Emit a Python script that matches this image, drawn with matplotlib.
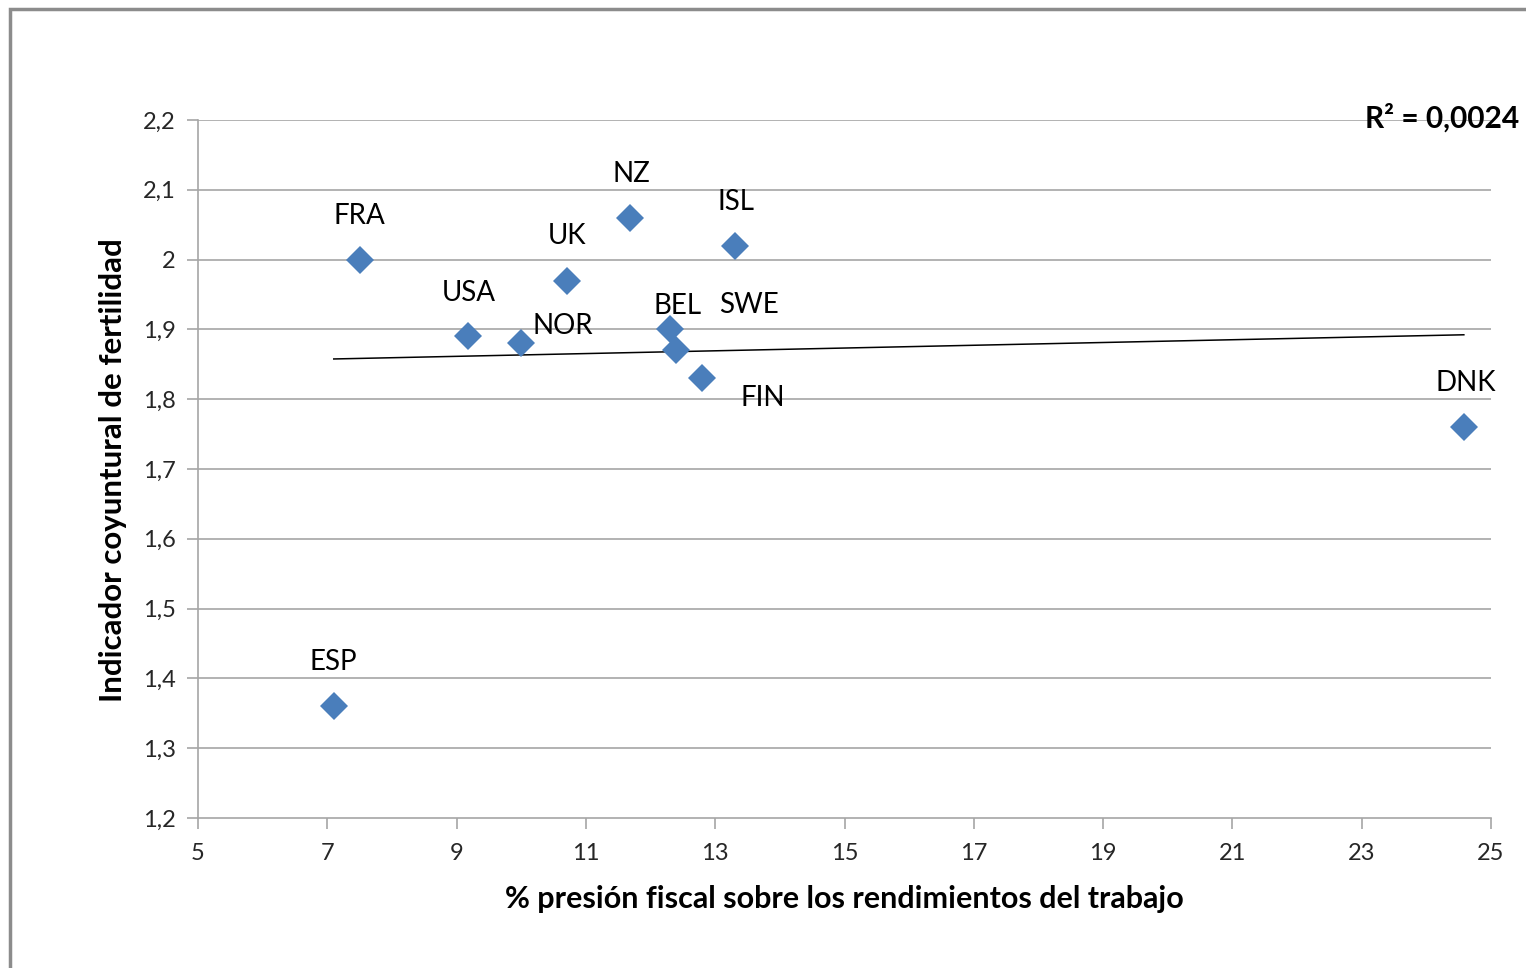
import numpy as np
import matplotlib
matplotlib.use('Agg')
import matplotlib.pyplot as plt
from matplotlib.patches import Rectangle

plt.rcParams['font.family'] = ['Lato', 'DejaVu Sans']

# Data
paises = ['FRA', 'ESP', 'USA', 'NOR', 'UK', 'NZ', 'ISL', 'BEL', 'SWE', 'FIN', 'DNK']
presion_fiscal = [7.5, 7.1, 9.18, 10.0, 10.7, 11.68, 13.3, 12.3, 12.4, 12.8, 24.58]
fertilidad = [2.00, 1.36, 1.89, 1.88, 1.97, 2.06, 2.02, 1.90, 1.87, 1.83, 1.76]
r2_texto = 'R² = 0,0024'

x_ticks = np.arange(5, 26, 2)
y_ticks = np.round(np.arange(1.2, 2.21, 0.1), 1)

# label offsets (pixels) relative to each point
offsets = {'FRA': (0, 44), 'ESP': (0, 44), 'USA': (1, 43), 'NOR': (42, 17),
           'UK': (0, 45), 'NZ': (2, 44), 'ISL': (1, 44), 'BEL': (8, 23),
           'SWE': (73, 45), 'FIN': (60, -20), 'DNK': (2, 44)}

fig = plt.figure(figsize=(15.26, 9.68), dpi=100)
ax = fig.add_axes([198 / 1526, 1 - 818 / 968, (1491 - 198) / 1526, (818 - 120) / 968])

# outer chart frame
fig.patches.append(Rectangle((10 / 1526, -0.05), 1.1, 1 - 9 / 968 + 0.05, transform=fig.transFigure,
                             fill=False, edgecolor='#8c8c8c', linewidth=2.5))

grid_col = '#a6a6a6'
for y in y_ticks[1:]:
    ax.axhline(y, color=grid_col, linewidth=1.2, zorder=1)

# trend line from least squares fit
coef = np.polyfit(presion_fiscal, fertilidad, 1)
xs = np.array([min(presion_fiscal), max(presion_fiscal)])
ax.plot(xs, np.polyval(coef, xs), color='black', linewidth=1.1, zorder=2)

ax.plot(presion_fiscal, fertilidad, linestyle='none', marker='D', markersize=14,
        color='#4a7ebb', markeredgewidth=0, zorder=3)

for p, xv, yv in zip(paises, presion_fiscal, fertilidad):
    dx, dy = offsets[p]
    ax.annotate(p, (xv, yv), xytext=(dx, dy), textcoords='offset pixels',
                ha='center', va='center', fontsize=20, color='black', zorder=4)

ax.set_xlim(5, 25)
ax.set_ylim(1.2, 2.2)
ax.set_xticks(x_ticks)
ax.set_yticks(y_ticks)
ax.set_xticklabels([str(v) for v in x_ticks])
ax.set_yticklabels([('%g' % v).replace('.', ',') for v in y_ticks])

for s in ['top', 'right']:
    ax.spines[s].set_visible(False)
for s in ['left', 'bottom']:
    ax.spines[s].set_color(grid_col)
    ax.spines[s].set_linewidth(1.2)
ax.tick_params(axis='both', direction='out', length=8, width=1.2, color=grid_col,
               labelsize=17, labelcolor='#262626')
ax.tick_params(axis='x', pad=10)
ax.tick_params(axis='y', pad=8)

fig.text(844 / 1526, 1 - 899 / 968, '% presión fiscal sobre los rendimientos del trabajo',
         ha='center', va='center', fontsize=22, fontweight='bold')
fig.text(113 / 1526, 1 - 470 / 968, 'Indicador coyuntural de fertilidad',
         ha='center', va='center', rotation=90, fontsize=22.5, fontweight='bold')
fig.text(1519 / 1526, 1 - 118 / 968, r2_texto, ha='right', va='center',
         fontsize=21.5, fontweight='bold')

fig.savefig('out.png', dpi=100)
